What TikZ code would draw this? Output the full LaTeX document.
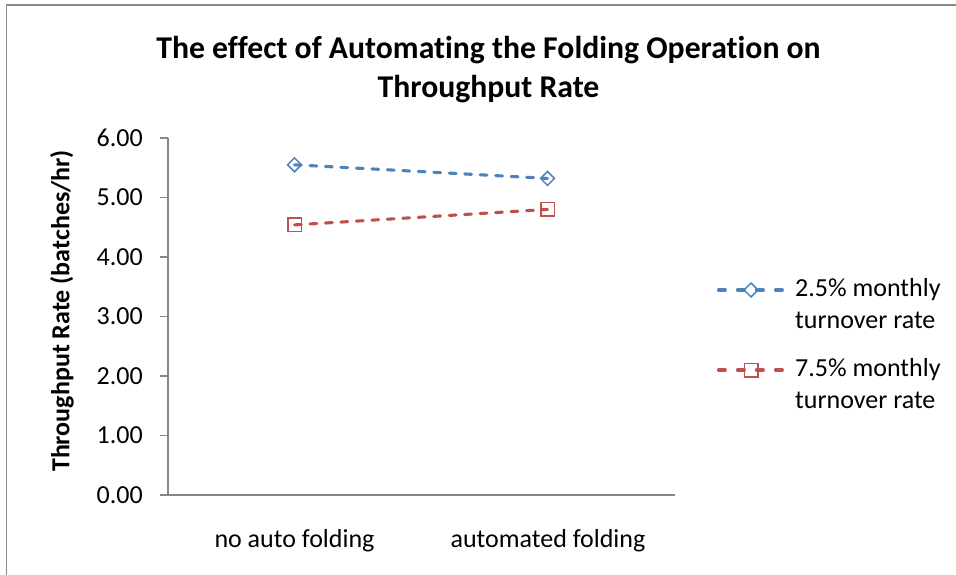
\documentclass[tikz,border=0pt]{standalone}
\usepackage{fontspec}
\setmainfont{Carlito}[Ligatures=CommonOff]
\usetikzlibrary{shapes.geometric}

\definecolor{axisgray}{HTML}{868686}
\definecolor{framegray}{HTML}{8A8A8A}
\definecolor{serblue}{HTML}{4F81BD}
\definecolor{serred}{HTML}{C0504D}

\tikzset{
  axisline/.style={draw=axisgray, line width=1.4pt},
  ticklabel/.style={anchor=east, inner sep=0pt, font=\fontsize{26}{32}\selectfont},
  catlabel/.style={anchor=base, inner sep=0pt, font=\fontsize{26}{32}\selectfont},
  legtext/.style={anchor=base west, inner sep=0pt, font=\fontsize{26}{32}\selectfont},
  titletext/.style={anchor=base, inner sep=0pt, font=\bfseries\fontsize{31.7}{38.7}\selectfont},
  serline/.style={line width=3.1pt, line cap=round, dash pattern=on 6.8pt off 8.7pt},
  legline/.style={line width=3.1pt, line cap=round, dash pattern=on 6.8pt off 12.2pt},
  dmark/.style={diamond, draw=serblue, line width=1.5pt, inner sep=0pt, minimum size=14.5pt},
  smark/.style={rectangle, draw=serred, line width=1.5pt, inner sep=0pt, minimum size=13.5pt}
}

\begin{document}
\begin{tikzpicture}[x=1pt, y=-1pt]
\useasboundingbox (0,0) rectangle (956,575);

% chart frame (only the top and left edges fall inside the page)
\draw[framegray, line width=1.5pt] (6.5,590) -- (6.5,5) -- (970,5);

% title
\node[titletext] (title1) at (488.5,58.5) {The effect of Automating the Folding Operation on};
\node[titletext] (title2) at (488.5,97.5) {Throughput Rate};

% value axis with ticks and labels
\foreach \v in {0,...,6} {
  \draw[axisline] (160,{495-59.5*\v}) -- (168,{495-59.5*\v});
  \node[ticklabel] (tick\v) at (143,{495-59.5*\v}) {\v.00};
}
\draw[axisline] (168,138) -- (168,495) -- (675,495);

% axis title
\node[rotate=90, inner sep=0pt, font=\bfseries\fontsize{26}{32}\selectfont] (ylab) at (62,311)
  {Throughput Rate (batches/hr)};

% category labels
\node[catlabel] (cat1) at (294.5,547) {no auto folding};
\node[catlabel] (cat2) at (548,547) {automated folding};

% data points
\coordinate (b1) at (294.5,164.8);
\coordinate (b2) at (547.5,178.4);
\coordinate (r1) at (294.5,224.9);
\coordinate (r2) at (547.5,209.4);

\draw[serline, serblue] (b1) -- (b2);
\draw[serline, serred] (r1) -- (r2);
\node[dmark] (mb1) at (b1) {};
\node[dmark] (mb2) at (b2) {};
\node[smark] (mr1) at (r1) {};
\node[smark] (mr2) at (r2) {};

% legend
\coordinate (lb0) at (718.5,290);
\coordinate (lb1) at (783,290);
\coordinate (lr0) at (718.5,370);
\coordinate (lr1) at (783,370);
\draw[legline, serblue] (lb0) -- (lb1);
\draw[legline, serred] (lr0) -- (lr1);
\node[dmark] (lmb) at (751,290) {};
\node[smark] (lmr) at (751,370) {};

\node[legtext] (leg1a) at (795,296) {2.5\% monthly};
\node[legtext] (leg1b) at (795,328) {turnover rate};
\node[legtext] (leg2a) at (795,376) {7.5\% monthly};
\node[legtext] (leg2b) at (795,408) {turnover rate};
\end{tikzpicture}
\end{document}
